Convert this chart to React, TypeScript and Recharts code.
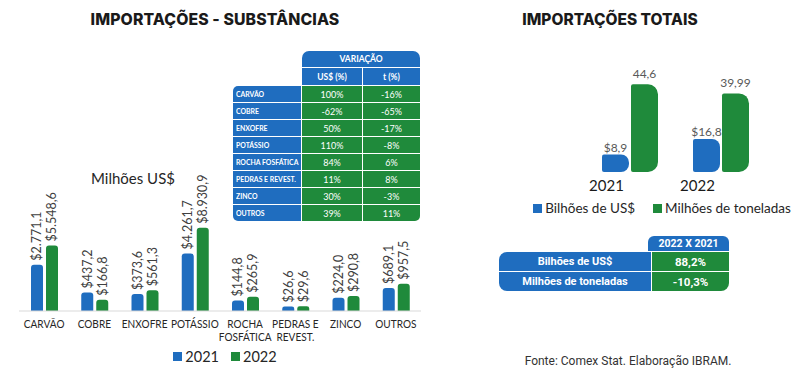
import { BarChart, Bar, XAxis, YAxis, Legend, LabelList } from 'recharts';

const BLUE = '#1f6dbf';
const GREEN = '#1f8a3b';

// substâncias (milhões US$)
const substances = ['CARVÃO', 'COBRE', 'ENXOFRE', 'POTÁSSIO', 'ROCHA FOSFÁTICA', 'PEDRAS E REVEST.', 'ZINCO', 'OUTROS'];
const tickLines = [['CARVÃO'], ['COBRE'], ['ENXOFRE'], ['POTÁSSIO'], ['ROCHA', 'FOSFÁTICA'], ['PEDRAS E', 'REVEST.'], ['ZINCO'], ['OUTROS']];
const usd2021 = [2771.1, 437.2, 373.6, 4261.7, 144.8, 26.6, 224.0, 689.1];
const usd2022 = [5548.6, 166.8, 561.3, 8930.9, 265.9, 29.6, 290.8, 957.5];
const varUsd = ['100%', '-62%', '50%', '110%', '84%', '11%', '30%', '39%'];
const varTon = ['-16%', '-65%', '-17%', '-8%', '6%', '8%', '-3%', '11%'];

// totais
const years = ['2021', '2022'];
const bilhoesUsd = [8.9, 16.8];
const milhoesTon = [44.6, 39.99];
const totalRows = ['Bilhões de US$', 'Milhões de toneladas'];
const totalVar = ['88,2%', '-10,3%'];

const leftData = substances.map((name, i) => ({ name, y2021: usd2021[i], y2022: usd2022[i] }));
const rightData = years.map((year, i) => ({ year, usd: bilhoesUsd[i], ton: milhoesTon[i] }));

const br = (v: number, d: number) => {
    const [a, b] = v.toFixed(d).split('.');
    return a.replace(/\B(?=(\d{3})+(?!\d))/g, '.') + (b ? ',' + b : '');
};

const FONT = 'Lato, sans-serif';
const TITLE_FONT = 'Inter, sans-serif';

const VLabel = (props: any) => {
    const { x, y, width, value } = props;
    const cx = x + width / 2;
    const ty = y - 4;
    return (
        <text x={cx} y={ty} transform={`rotate(-90 ${cx} ${ty})`} textAnchor='start' dominantBaseline='central'
            fontSize={12.5} fill='#404040' fontFamily={FONT}>
            {'$' + br(value, 1)}
        </text>
    );
};

// Calibri-like narrow labels: squeeze Lato horizontally
const CatTick = (props: any) => {
    const { x, y, payload } = props;
    const lines = tickLines[substances.indexOf(payload.value)] || [payload.value];
    return (
        <text transform={`translate(${x} ${y}) scale(0.84 1)`} x={0} y={0} textAnchor='middle' fontSize={12} fill='#262626' fontFamily={FONT}>
            {lines.map((l, i) => (
                <tspan key={i} x={0} dy={i === 0 ? '0.71em' : '1.1em'}>{l}</tspan>
            ))}
        </text>
    );
};

const YearTick = (props: any) => {
    const { x, y, payload } = props;
    return (
        <text x={x - 23} y={y} dy='0.71em' textAnchor='middle' fontSize={15} fill='#1a1a1a' fontFamily={FONT}>
            {payload.value}
        </text>
    );
};

const LegendBox = ({ payload, gap, size }: any) => (
    <div style={{ display: 'flex', justifyContent: 'center', gap, fontFamily: FONT, fontSize: size, color: '#262626', whiteSpace: 'nowrap' }}>
        {(payload || []).map((p: any) => (
            <span key={p.value} style={{ display: 'flex', alignItems: 'center' }}>
                <span style={{ width: 9, height: 9, background: p.color, marginRight: 3, display: 'inline-block' }} />
                {p.value}
            </span>
        ))}
    </div>
);

const cell = (left: number, top: number, width: number, height: number, bg: string, radius: string, content: string,
    align: 'center' | 'left', fontSize: number, weight: number, font: string, squeeze = 1) => (
    <div key={`${left}-${top}`} style={{
        position: 'absolute', left, top, width, height, background: bg, borderRadius: radius, color: '#fff',
        fontFamily: font, fontSize, fontWeight: weight, display: 'flex', alignItems: 'center',
        justifyContent: align === 'center' ? 'center' : 'flex-start', paddingLeft: align === 'left' ? 3 : 0,
        boxSizing: 'border-box', whiteSpace: 'nowrap', overflow: 'hidden'
    }}>
        <span style={{ display: 'inline-block', transform: `scaleX(${squeeze})`, transformOrigin: align === 'left' ? 'left center' : 'center' }}>{content}</span>
    </div>
);

export default function App() {
    return (
        <div style={{ position: 'absolute', left: 0, top: 0, width: 800, height: 376, background: '#fff', overflow: 'hidden' }}>
            <div style={{ position: 'absolute', left: 0, width: 430, top: 10, textAlign: 'center', fontFamily: TITLE_FONT, fontWeight: 800, fontSize: 15.8, color: '#1a1a1a', letterSpacing: 0.1 }}>
                IMPORTAÇÕES - SUBSTÂNCIAS
            </div>
            <div style={{ position: 'absolute', left: 480, width: 260, top: 10, textAlign: 'center', fontFamily: TITLE_FONT, fontWeight: 800, fontSize: 15.5, color: '#1a1a1a' }}>
                IMPORTAÇÕES TOTAIS
            </div>

            <div style={{ position: 'absolute', left: 0, top: 0 }}>
                <BarChart width={430} height={376} data={leftData} margin={{ top: 223, right: 9, left: 19, bottom: 6 }}
                    barSize={12} barGap={3}>
                    <XAxis dataKey='name' axisLine={{ stroke: '#d9d9d9' }} tickLine={false} interval={0} height={37} tick={<CatTick />} />
                    <YAxis hide scale='sqrt' domain={[0, 10000]} />
                    <Legend verticalAlign='bottom' height={22} wrapperStyle={{ left: 125, width: 200 }}
                        content={(p: any) => <LegendBox payload={p.payload} gap={12} size={14.5} />} />
                    <Bar dataKey='y2021' name='2021' fill={BLUE} radius={[3, 3, 0, 0]} isAnimationActive={false}>
                        <LabelList dataKey='y2021' content={VLabel} />
                    </Bar>
                    <Bar dataKey='y2022' name='2022' fill={GREEN} radius={[3, 3, 0, 0]} isAnimationActive={false}>
                        <LabelList dataKey='y2022' content={VLabel} />
                    </Bar>
                </BarChart>
            </div>

            <div style={{ position: 'absolute', left: 80, width: 106, top: 169, textAlign: 'center', fontFamily: FONT, fontSize: 15, color: '#262626' }}>
                Milhões US$
            </div>

            {cell(302, 51, 118, 16, BLUE, '7px 7px 0 0', 'VARIAÇÃO', 'center', 8.5, 700, FONT)}
            {cell(302, 68, 60, 17, BLUE, '0', 'US$ (%)', 'center', 8.5, 700, FONT)}
            {cell(363, 68, 57, 17, BLUE, '0', 't (%)', 'center', 8.5, 700, FONT)}
            {substances.map((s, i) => {
                const top = 86 + i * 17;
                const last = i === substances.length - 1;
                return [
                    cell(233, top, 68, 16, BLUE, i === 0 ? '5px 0 0 0' : last ? '0 0 0 5px' : '0', s, 'left', 8, 700, FONT, 0.86),
                    cell(302, top, 60, 16, GREEN, '0', varUsd[i], 'center', 9, 400, FONT),
                    cell(363, top, 57, 16, GREEN, last ? '0 0 5px 0' : '0', varTon[i], 'center', 9, 400, FONT),
                ];
            })}

            <div style={{ position: 'absolute', left: 480, top: 0 }}>
                <BarChart width={320} height={240} data={rightData} margin={{ top: 60, right: 34, left: 104, bottom: 16 }}
                    barSize={27} barGap={2}>
                    <XAxis dataKey='year' axisLine={false} tickLine={false} height={28} tick={<YearTick />} />
                    <YAxis hide domain={[0, 57]} />
                    <Legend verticalAlign='bottom' height={24} wrapperStyle={{ left: 22, width: 320 }}
                        content={(p: any) => <LegendBox payload={p.payload} gap={18} size={13.5} />} />
                    <Bar dataKey='usd' name='Bilhões de US$' fill={BLUE} radius={[2, 8, 8, 2]} isAnimationActive={false}>
                        <LabelList dataKey='usd' position='top' offset={3} fill='#595959' fontSize={12} fontFamily={FONT}
                            formatter={(v: any) => '$' + br(v, 1)} />
                    </Bar>
                    <Bar dataKey='ton' name='Milhões de toneladas' fill={GREEN} radius={[2, 10, 10, 2]} isAnimationActive={false}>
                        <LabelList dataKey='ton' position='top' offset={6} fill='#595959' fontSize={12} fontFamily={FONT}
                            formatter={(v: any) => String(v).replace('.', ',')} />
                    </Bar>
                </BarChart>
            </div>

            {cell(648, 236, 81, 15, BLUE, '6px 6px 0 0', '2022 X 2021', 'center', 10.5, 700, 'Roboto, sans-serif')}
            {totalRows.map((r, i) => {
                const top = 252 + i * 20;
                return [
                    cell(499, top, 152, 19, BLUE, i === 0 ? '8px 0 0 0' : '0 0 0 8px', r, 'center', 11, 700, 'Roboto, sans-serif'),
                    cell(652, top, 77, 19, GREEN, i === 1 ? '0 0 8px 0' : '0', totalVar[i], 'center', 11.5, 700, 'Roboto, sans-serif'),
                ];
            })}

            <div style={{ position: 'absolute', left: 480, width: 296, top: 354, textAlign: 'center', fontFamily: 'Roboto, sans-serif', fontSize: 12, color: '#333' }}>
                Fonte: Comex Stat. Elaboração IBRAM.
            </div>
        </div>
    );
}
